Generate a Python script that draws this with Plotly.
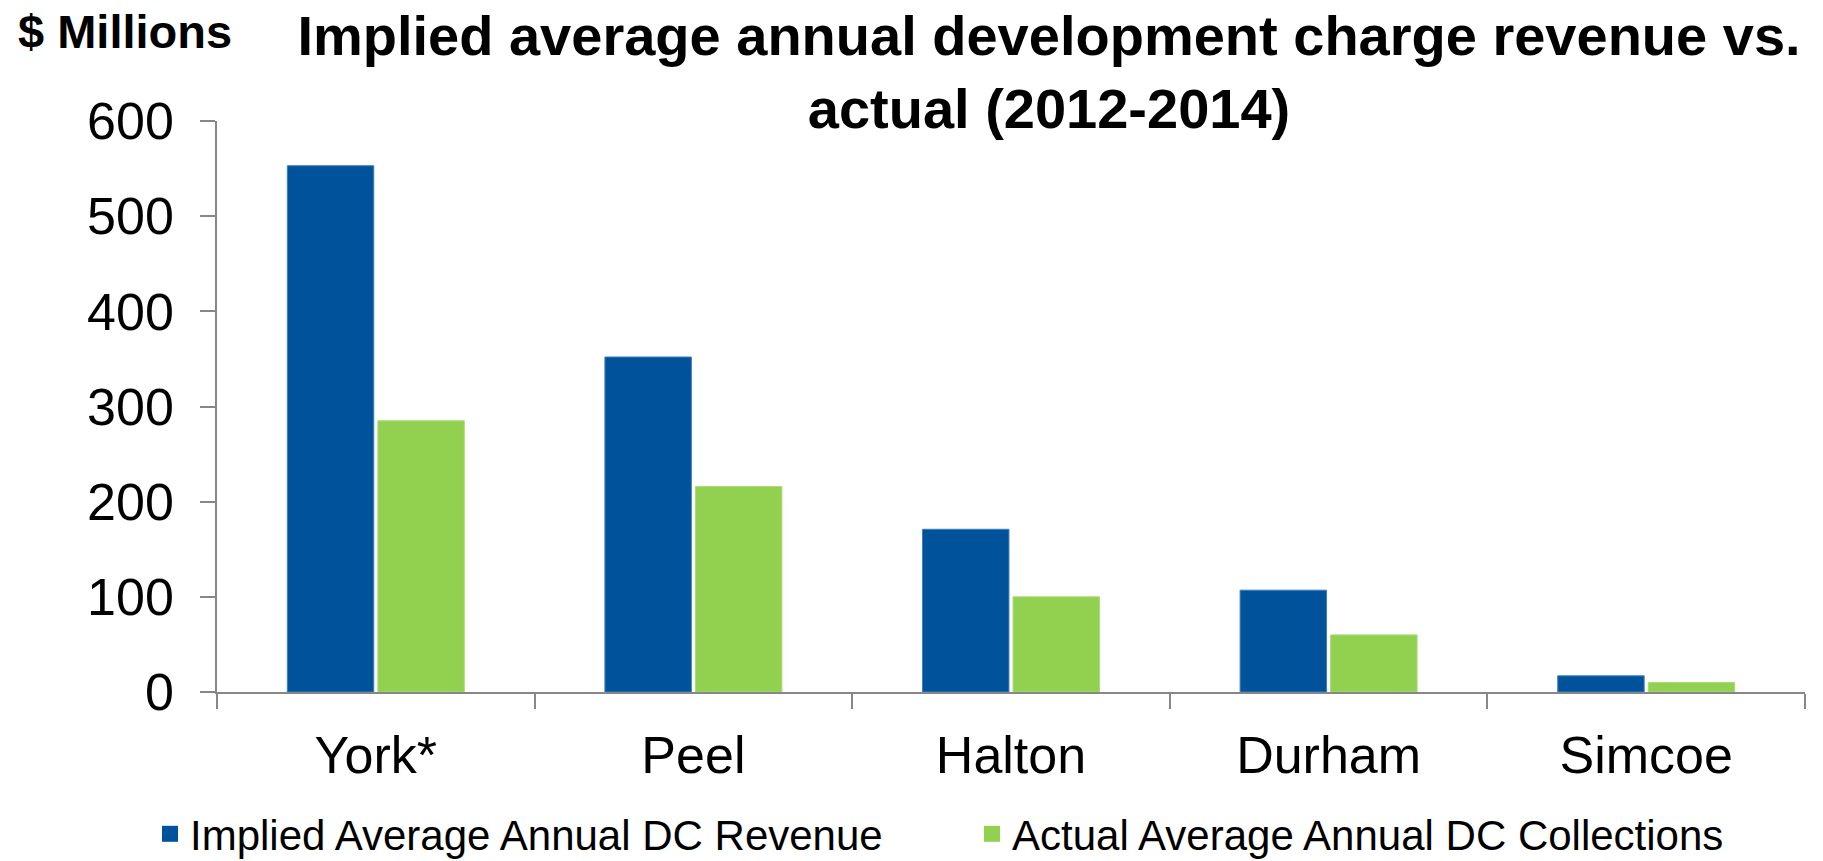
import plotly.graph_objects as go

# Regions and average annual development charge figures ($ millions)
regions = ["York*", "Peel", "Halton", "Durham", "Simcoe"]
implied_revenue = [553, 352, 171, 107, 17]
actual_collections = [285, 216, 100, 60, 10]

series_names = ["Implied Average Annual DC Revenue", "Actual Average Annual DC Collections"]
series_colors = ["#00529B", "#92D050"]
series_edges = ["#3F7FBF", "#A9DC78"]
y_ticks = [0, 100, 200, 300, 400, 500, 600]

FONT = "Liberation Sans, Arial, sans-serif"
AXIS_GREY = "#878787"

W, H = 1823, 861
# plot area in pixels
PL, PR, PT, PB = 217, 1805, 121, 692
PW, PH = PR - PL, PB - PT

fig = go.Figure()

for name, vals, col, edge in zip(series_names, [implied_revenue, actual_collections],
                                 series_colors, series_edges):
    fig.add_trace(go.Bar(
        x=regions, y=vals, name=name,
        marker=dict(color=col, line=dict(color=edge, width=1)),
        showlegend=False,
    ))
    # legend swatch
    fig.add_trace(go.Scatter(
        x=[None], y=[None], mode="markers", name=name,
        marker=dict(symbol="square", size=16, color=col),
    ))

fig.update_layout(
    width=W, height=H,
    margin=dict(l=PL, r=W - PR, t=PT, b=H - PB, pad=0, autoexpand=False),
    paper_bgcolor="white", plot_bgcolor="white",
    barmode="group", bargap=0.43, bargroupgap=0.045,
    font=dict(family=FONT, color="black"),
    title=dict(
        text="<b>Implied average annual development charge revenue vs.<br>actual (2012-2014)</b>",
        font=dict(family=FONT, size=56, color="black"),
        x=1049 / W, xanchor="center", xref="container",
        y=1 - 55 / H, yanchor="top", yref="container",
    ),
    showlegend=True,
    legend=dict(
        orientation="h", x=(150 - PL) / PW, xanchor="left",
        y=(PB - 800) / PH, yanchor="top",
        font=dict(family=FONT, size=42, color="black"),
        entrywidth=777, entrywidthmode="pixels",
        bgcolor="rgba(0,0,0,0)", borderwidth=0,
    ),
    xaxis=dict(
        type="category", tickson="boundaries",
        showline=True, linecolor=AXIS_GREY, linewidth=2,
        ticks="outside", ticklen=15, tickwidth=2, tickcolor=AXIS_GREY,
        tickfont=dict(family=FONT, size=52, color="black"),
        ticklabelstandoff=17,
        showgrid=False, zeroline=False, fixedrange=True,
    ),
    yaxis=dict(
        range=[0, 600], tickvals=y_ticks,
        showline=True, linecolor=AXIS_GREY, linewidth=1.5,
        ticks="outside", ticklen=15, tickwidth=1.5, tickcolor=AXIS_GREY,
        tickfont=dict(family=FONT, size=52, color="black"),
        ticklabelstandoff=16,
        showgrid=False, zeroline=False, fixedrange=True,
    ),
    annotations=[dict(
        text="<b>$ Millions</b>", xref="paper", yref="paper",
        x=(16 - PL) / PW, y=(PB - 31) / PH,
        xanchor="left", yanchor="middle", showarrow=False,
        font=dict(family=FONT, size=47, color="black"),
    )],
)

fig.write_html("out.html", config={"displayModeBar": False})
